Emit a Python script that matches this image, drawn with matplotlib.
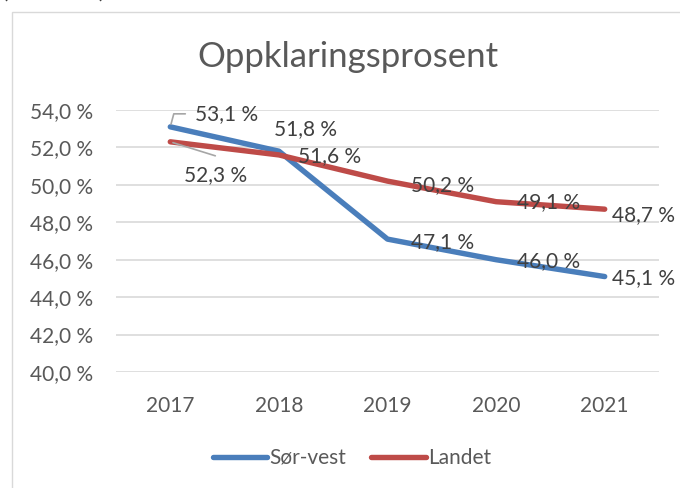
import matplotlib
matplotlib.use("Agg")
import matplotlib.pyplot as plt
from matplotlib.patches import Rectangle

years = ["2017", "2018", "2019", "2020", "2021"]
sor_vest = [53.1, 51.8, 47.1, 46.0, 45.1]
landet = [52.3, 51.6, 50.2, 49.1, 48.7]
yticks = [40, 42, 44, 46, 48, 50, 52, 54]

def fmt(v):
    return f"{v:.1f}".replace(".", ",") + " %"

plt.rcParams['font.family'] = ['Lato', 'DejaVu Sans']
W, H = 680, 488
fig = plt.figure(figsize=(W/100, H/100), dpi=100)
fig.patch.set_facecolor('white')

FS = 15

# outer chart frame
fig.add_artist(Rectangle((12/W, -0.01), 1.0, 1 - 12/H + 0.01, transform=fig.transFigure,
                         fill=False, edgecolor='#d9d9d9', lw=1.0))
# cropped caption above frame
fig.text(2/W, 1 + 9/H, "(tabell 30)", fontsize=17, color='#404040', ha='left', va='center')

ax = fig.add_axes([116/W, 1 - 372/H, (659-116)/W, (372-110)/H])
x = list(range(len(years)))
blue = '#4a7ebb'
red = '#be4b48'
ax.plot(x, sor_vest, color=blue, lw=3.9, solid_capstyle='round', solid_joinstyle='round', label='Sør-vest', zorder=3)
ax.plot(x, landet, color=red, lw=3.9, solid_capstyle='round', solid_joinstyle='round', label='Landet', zorder=3)

ax.set_xlim(-0.5, len(years) - 0.5)
ax.set_ylim(40, 54)
ax.set_yticks(yticks)
ax.set_yticklabels([fmt(v) for v in yticks])
ax.set_xticks(x)
ax.set_xticklabels(years)
ax.grid(axis='y', color='#d9d9d9', lw=1.2)
ax.set_axisbelow(True)
for s in ax.spines.values():
    s.set_visible(False)
ax.tick_params(axis='both', length=0, labelsize=FS, labelcolor='#595959')
ax.tick_params(axis='y', pad=16.5)
ax.tick_params(axis='x', pad=17)

fig.text(348/W, 1 - 57/H, "Oppklaringsprosent", fontsize=25, color='#595959',
         ha='center', va='center')

offs_sv = [(56, 13), (27, 22), (55, -3), (52, -1), (39, -2)]
offs_la = [(45, -33), (51, -1), (55, -4), (52, 0), (39, -6)]
for i, v in enumerate(sor_vest):
    ax.annotate(fmt(v), (x[i], v), xytext=offs_sv[i], textcoords='offset pixels',
                ha='center', va='center', fontsize=FS, color='#404040', zorder=4)
for i, v in enumerate(landet):
    ax.annotate(fmt(v), (x[i], v), xytext=offs_la[i], textcoords='offset pixels',
                ha='center', va='center', fontsize=FS, color='#404040', zorder=4)

# leader lines
ax.annotate("", (x[0], sor_vest[0]), xytext=(15, 13), textcoords='offset pixels',
            arrowprops=dict(arrowstyle='-', color='#a6a6a6', lw=1.2, shrinkA=0, shrinkB=2,
                            connectionstyle='angle,angleA=0,angleB=75,rad=0'))
ax.annotate("", (x[0], landet[0]), xytext=(45, -14), textcoords='offset pixels',
            arrowprops=dict(arrowstyle='-', color='#a6a6a6', lw=1.2, shrinkA=0, shrinkB=2))

leg = fig.legend(loc='center', bbox_to_anchor=(352/W, 1 - 458/H), ncol=2, frameon=False,
                 fontsize=FS, handlelength=2.6, handletextpad=0.1, columnspacing=1.2)
for t in leg.get_texts():
    t.set_color('#595959')

fig.savefig("out.png", dpi=100)
